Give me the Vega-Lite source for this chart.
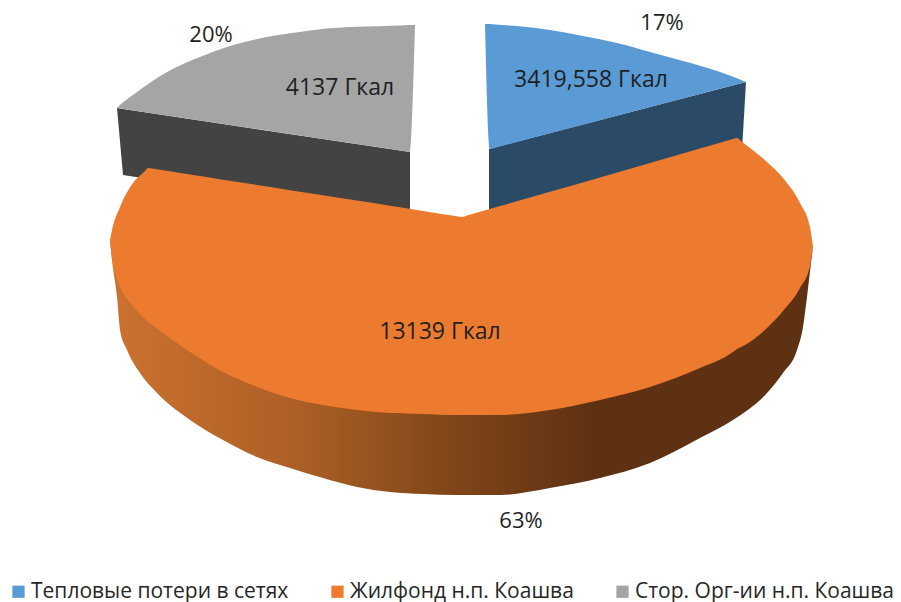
{
"$schema":"https://vega.github.io/schema/vega-lite/v6.json",
"width":901,"height":602,"padding":0,"autosize":{"type":"none"},
"background":"white",
"view":{"stroke":null},
"datasets":{
"faces":[
{"series":"Тепловые потери в сетях","x":485,"y":24,"y2":24},
{"series":"Тепловые потери в сетях","x":490,"y":24,"y2":149},
{"series":"Тепловые потери в сетях","x":495,"y":24.5,"y2":147.7},
{"series":"Тепловые потери в сетях","x":517,"y":26,"y2":142},
{"series":"Тепловые потери в сетях","x":550,"y":30,"y2":133.3},
{"series":"Тепловые потери в сетях","x":583,"y":36,"y2":124.7},
{"series":"Тепловые потери в сетях","x":617,"y":43,"y2":115.8},
{"series":"Тепловые потери в сетях","x":650,"y":52,"y2":107.1},
{"series":"Тепловые потери в сетях","x":683,"y":61,"y2":98.5},
{"series":"Тепловые потери в сетях","x":717,"y":71,"y2":89.6},
{"series":"Тепловые потери в сетях","x":740,"y":79.5,"y2":83.6},
{"series":"Тепловые потери в сетях","x":746,"y":82,"y2":82},
{"series":"Жилфонд н.п. Коашва","x":110,"y":240,"y2":240},
{"series":"Жилфонд н.п. Коашва","x":112,"y":230,"y2":258},
{"series":"Жилфонд н.п. Коашва","x":120,"y":207,"y2":286},
{"series":"Жилфонд н.п. Коашва","x":133,"y":183,"y2":306},
{"series":"Жилфонд н.п. Коашва","x":145,"y":171,"y2":319},
{"series":"Жилфонд н.п. Коашва","x":148,"y":168,"y2":322},
{"series":"Жилфонд н.п. Коашва","x":152,"y":168.6,"y2":325},
{"series":"Жилфонд н.п. Коашва","x":190,"y":174.6,"y2":352},
{"series":"Жилфонд н.п. Коашва","x":223,"y":179.7,"y2":372},
{"series":"Жилфонд н.п. Коашва","x":257,"y":185,"y2":387},
{"series":"Жилфонд н.п. Коашва","x":290,"y":190.2,"y2":398},
{"series":"Жилфонд н.п. Коашва","x":323,"y":195.3,"y2":405},
{"series":"Жилфонд н.п. Коашва","x":357,"y":200.6,"y2":410},
{"series":"Жилфонд н.п. Коашва","x":390,"y":205.8,"y2":413},
{"series":"Жилфонд н.п. Коашва","x":423,"y":210.9,"y2":414},
{"series":"Жилфонд н.п. Коашва","x":457,"y":216.2,"y2":415},
{"series":"Жилфонд н.п. Коашва","x":462,"y":217,"y2":415},
{"series":"Жилфонд н.п. Коашва","x":467,"y":215.6,"y2":415},
{"series":"Жилфонд н.п. Коашва","x":500,"y":206.1,"y2":415},
{"series":"Жилфонд н.п. Коашва","x":550,"y":191.7,"y2":410},
{"series":"Жилфонд н.п. Коашва","x":600,"y":177.4,"y2":400},
{"series":"Жилфонд н.п. Коашва","x":650,"y":163,"y2":387},
{"series":"Жилфонд н.п. Коашва","x":700,"y":148.6,"y2":368},
{"series":"Жилфонд н.п. Коашва","x":733,"y":139.1,"y2":352},
{"series":"Жилфонд н.п. Коашва","x":737,"y":138,"y2":349},
{"series":"Жилфонд н.п. Коашва","x":741,"y":141,"y2":347},
{"series":"Жилфонд н.п. Коашва","x":750,"y":148,"y2":342},
{"series":"Жилфонд н.п. Коашва","x":767,"y":162,"y2":328},
{"series":"Жилфонд н.п. Коашва","x":783,"y":178,"y2":311},
{"series":"Жилфонд н.п. Коашва","x":800,"y":203,"y2":288},
{"series":"Жилфонд н.п. Коашва","x":810,"y":227,"y2":266},
{"series":"Жилфонд н.п. Коашва","x":813,"y":247,"y2":247},
{"series":"Стор. Орг-ии н.п. Коашва","x":117,"y":108,"y2":108},
{"series":"Стор. Орг-ии н.п. Коашва","x":121,"y":104,"y2":108.6},
{"series":"Стор. Орг-ии н.п. Коашва","x":133,"y":95,"y2":110.4},
{"series":"Стор. Орг-ии н.п. Коашва","x":167,"y":72,"y2":115.5},
{"series":"Стор. Орг-ии н.п. Коашва","x":200,"y":57,"y2":120.5},
{"series":"Стор. Орг-ии н.п. Коашва","x":233,"y":45,"y2":125.4},
{"series":"Стор. Орг-ии н.п. Коашва","x":267,"y":37,"y2":130.5},
{"series":"Стор. Орг-ии н.п. Коашва","x":300,"y":32,"y2":135.5},
{"series":"Стор. Орг-ии н.п. Коашва","x":333,"y":28,"y2":140.4},
{"series":"Стор. Орг-ии н.п. Коашва","x":367,"y":26.5,"y2":145.5},
{"series":"Стор. Орг-ии н.п. Коашва","x":405,"y":25.2,"y2":151.2},
{"series":"Стор. Орг-ии н.п. Коашва","x":410,"y":25,"y2":152},
{"series":"Стор. Орг-ии н.п. Коашва","x":415,"y":25,"y2":25}
],
"cutBlue":[
{"x":489,"y":149,"y2":220},
{"x":742,"y":83,"y2":150},
{"x":746,"y":82,"y2":82}
],
"cutGray":[
{"x":117,"y":108,"y2":108},
{"x":123,"y":109,"y2":175},
{"x":410,"y":152,"y2":220}
],
"rim":[
{"x":110,"y":240,"y2":240},
{"x":112,"y":240,"y2":260},
{"x":117,"y":260,"y2":297},
{"x":120,"y":280,"y2":330},
{"x":127,"y":290,"y2":350},
{"x":140,"y":305,"y2":373},
{"x":157,"y":320,"y2":393},
{"x":190,"y":345,"y2":420},
{"x":223,"y":365,"y2":440},
{"x":257,"y":380,"y2":457},
{"x":290,"y":390,"y2":468},
{"x":323,"y":398,"y2":478},
{"x":357,"y":403,"y2":487},
{"x":390,"y":406,"y2":492},
{"x":423,"y":407,"y2":494},
{"x":457,"y":408,"y2":495},
{"x":500,"y":408,"y2":495},
{"x":550,"y":403,"y2":488},
{"x":600,"y":393,"y2":478},
{"x":650,"y":380,"y2":463},
{"x":700,"y":361,"y2":438},
{"x":733,"y":345,"y2":420},
{"x":767,"y":321,"y2":393},
{"x":783,"y":304,"y2":373},
{"x":797,"y":285,"y2":350},
{"x":803,"y":275,"y2":327},
{"x":807,"y":265,"y2":297},
{"x":811,"y":255,"y2":263},
{"x":813,"y":247,"y2":247}
],
"values":[
{"x":591,"y":80,"label":"3419,558 Гкал"},
{"x":340,"y":88,"label":"4137 Гкал"},
{"x":440,"y":332,"label":"13139 Гкал"}
],
"shares":[
{"x":662,"y":23,"label":"17%"},
{"x":211,"y":35,"label":"20%"},
{"x":521,"y":521,"label":"63%"}
]
},
"encoding":{
"x":{"field":"x","type":"quantitative","scale":{"domain":[0,901],"nice":false,"zero":false},"axis":null},
"y":{"field":"y","type":"quantitative","scale":{"domain":[602,0],"nice":false,"zero":false},"axis":null}
},
"layer":[
{"data":{"name":"cutBlue"},"mark":{"type":"area","color":"#2b4a66"},"encoding":{"y2":{"field":"y2"}}},
{"data":{"name":"cutGray"},"mark":{"type":"area","color":"#434343"},"encoding":{"y2":{"field":"y2"}}},
{"data":{"name":"rim"},"mark":{"type":"area","interpolate":"monotone","color":{"gradient":"linear","x1":0,"y1":0,"x2":1,"y2":0,"stops":[{"offset":0,"color":"#cc7230"},{"offset":0.27,"color":"#ac5f25"},{"offset":0.48,"color":"#814619"},{"offset":0.68,"color":"#5f3113"},{"offset":1,"color":"#5f3113"}]}},"encoding":{"y2":{"field":"y2"}}},
{"data":{"name":"faces"},"mark":{"type":"area","interpolate":"monotone"},"encoding":{
"y2":{"field":"y2"},
"color":{"field":"series","type":"nominal","sort":["Тепловые потери в сетях","Жилфонд н.п. Коашва","Стор. Орг-ии н.п. Коашва"],
"scale":{"domain":["Тепловые потери в сетях","Жилфонд н.п. Коашва","Стор. Орг-ии н.п. Коашва"],"range":["#5b9bd5","#ec7b30","#a5a5a5"]},
"legend":{"title":null,"orient":"none","legendX":8,"legendY":581,"direction":"horizontal","columns":3,"columnPadding":38,"padding":0,"symbolType":"square","symbolSize":150,"symbolStrokeWidth":0,"labelFont":"Open Sans","labelFontSize":21,"labelColor":"#262626","labelOffset":2,"labelLimit":0}}
}},
{"data":{"name":"values"},"mark":{"type":"text","font":"Open Sans","fontSize":23,"color":"#1f1f1f","align":"center","baseline":"middle"},"encoding":{"text":{"field":"label","type":"nominal"}}},
{"data":{"name":"shares"},"mark":{"type":"text","font":"Open Sans","fontSize":22,"color":"#1f1f1f","align":"center","baseline":"middle"},"encoding":{"text":{"field":"label","type":"nominal"}}}
]
}
